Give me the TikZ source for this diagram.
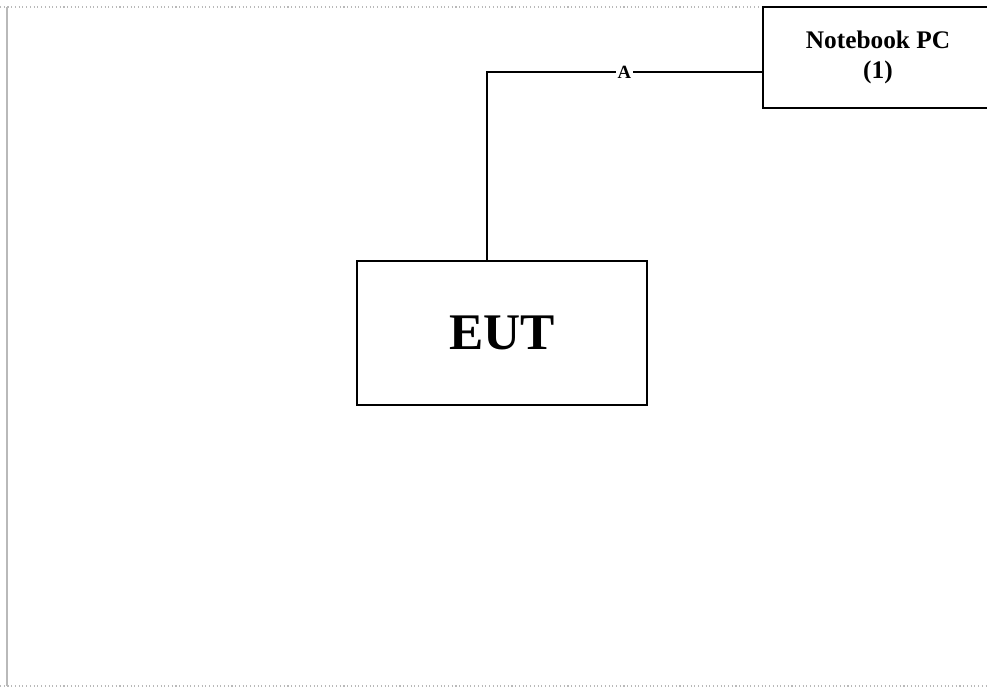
\documentclass[tikz,border=0pt]{standalone}
\usepackage{fontspec}
\setmainfont{Liberation Serif}
\usetikzlibrary{positioning}

\begin{document}
\begin{tikzpicture}[x=0.75pt,y=-0.75pt,
		unit/.style={draw,line width=1.6pt,inner sep=0pt,font=\bfseries},
		cable/.style={line width=1.5pt},
		frame/.style={gray!55,line width=0.8pt}]
		\useasboundingbox (0,0) rectangle (987,687);
		\clip (0,0) rectangle (987,687);
		
		% page frame
		\draw[frame,dotted]	(0,7)	-- (763,7);
		\draw[frame]		(7,7)	-- (7,686);
		\draw[frame,dotted]	(0,686)	-- (987,686);
		
		\node[unit,minimum width=290*0.75pt,minimum height=144*0.75pt,font=\bfseries\fontsize{38.5}{44}\selectfont]
								(eut)	at (502,333)				{EUT};
		\node[unit,minimum width=230*0.75pt,minimum height=101*0.75pt,align=center,font=\bfseries\fontsize{19}{23}\selectfont]
								(pc)	at (878,57.5)				{Notebook PC\\(1)};
		
		\coordinate (eut_a)	at ([xshift=-15*0.75pt]eut.north);
		\coordinate (pc_a)	at ([yshift=-14.5*0.75pt]pc.west);
		
		\draw[cable]	(eut_a)	|-	node[pos=0.75,fill=white,inner sep=1pt,font=\bfseries\fontsize{14}{15}\selectfont]	{A}	(pc_a);
	\end{tikzpicture}
\end{document}
